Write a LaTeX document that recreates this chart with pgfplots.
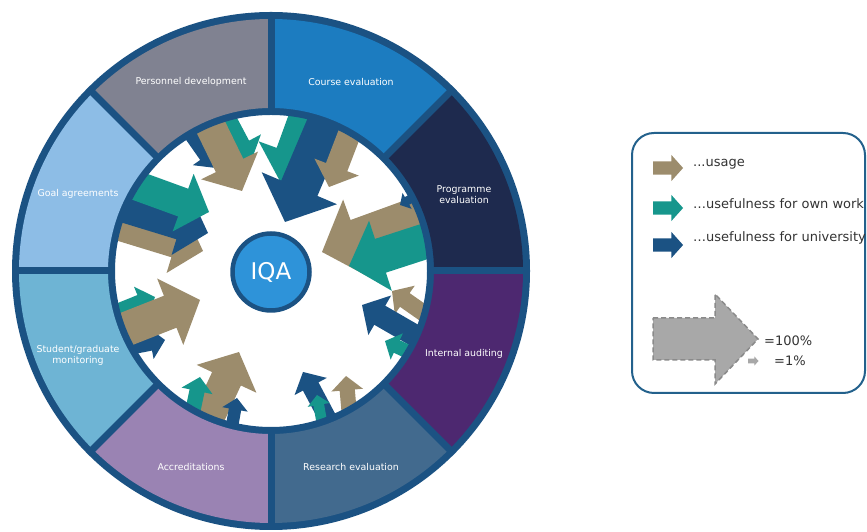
\documentclass[border=0pt]{standalone}
\usepackage{pgfplots}
\pgfplotsset{compat=1.18}
\usepackage{pgfplotstable}
\usepackage{fontspec}
\setmainfont{DejaVu Sans}

\definecolor{tanc}{HTML}{9C8C6C}
\definecolor{tealc}{HTML}{16968C}
\definecolor{navyc}{HTML}{1B5283}
\definecolor{ringc}{HTML}{1B5283}
\definecolor{cpers}{HTML}{808291}
\definecolor{ccourse}{HTML}{1C7CC0}
\definecolor{cprog}{HTML}{1E2A4E}
\definecolor{caudit}{HTML}{4D2870}
\definecolor{cresearch}{HTML}{426A8E}
\definecolor{caccred}{HTML}{9A83B3}
\definecolor{cstudent}{HTML}{6EB4D4}
\definecolor{cgoal}{HTML}{8DBDE6}
\definecolor{ciqa}{HTML}{2E93D9}
\definecolor{boxc}{HTML}{23618C}
\definecolor{greyfill}{HTML}{A8A8A8}
\definecolor{greyline}{HTML}{8A8A8A}

% arrows drawn for a share of 1% (length 10.5pt), pointing along +x
% ring arrow: tip at origin, long shaft that runs under the ring
\pgfdeclareplotmark{ringarrow}{%
  \pgfpathmoveto{\pgfqpoint{0pt}{0pt}}%
  \pgfpathlineto{\pgfqpoint{-4.1pt}{4.57pt}}%
  \pgfpathlineto{\pgfqpoint{-4.1pt}{2.2pt}}%
  \pgfpathlineto{\pgfqpoint{-13.5pt}{2.2pt}}%
  \pgfpathlineto{\pgfqpoint{-13.5pt}{-2.2pt}}%
  \pgfpathlineto{\pgfqpoint{-4.1pt}{-2.2pt}}%
  \pgfpathlineto{\pgfqpoint{-4.1pt}{-4.57pt}}%
  \pgfpathclose
  \pgfusepathqfill}
% legend arrow: tail at origin
\pgfdeclareplotmark{blockarrow}{%
  \pgfpathmoveto{\pgfqpoint{0pt}{2.3pt}}%
  \pgfpathlineto{\pgfqpoint{6.4pt}{2.3pt}}%
  \pgfpathlineto{\pgfqpoint{6.4pt}{4.57pt}}%
  \pgfpathlineto{\pgfqpoint{10.5pt}{0pt}}%
  \pgfpathlineto{\pgfqpoint{6.4pt}{-4.57pt}}%
  \pgfpathlineto{\pgfqpoint{6.4pt}{-2.3pt}}%
  \pgfpathlineto{\pgfqpoint{0pt}{-2.3pt}}%
  \pgfpathclose
  \pgfusepathqfill}
\pgfdeclareplotmark{blockarrowframed}{%
  \pgfpathmoveto{\pgfqpoint{0pt}{2.1pt}}%
  \pgfpathlineto{\pgfqpoint{6.2pt}{2.1pt}}%
  \pgfpathlineto{\pgfqpoint{6.2pt}{4.5pt}}%
  \pgfpathlineto{\pgfqpoint{10.5pt}{0pt}}%
  \pgfpathlineto{\pgfqpoint{6.2pt}{-4.5pt}}%
  \pgfpathlineto{\pgfqpoint{6.2pt}{-2.1pt}}%
  \pgfpathlineto{\pgfqpoint{0pt}{-2.1pt}}%
  \pgfpathclose
  \pgfusepath{fill,stroke}}

% x y = arrow tip, ang = direction, p = share in %, c = u usage / o own work / n university
% drawn in row order: course, programme, auditing, research, accreditation, student, goal, personnel
\pgfplotstableread{
x y ang p c
282 347 250 65 o
285 310 247 80 n
329 345 249 27 u
322 280 200 85 u
349 266 198 65 o
400 327 210 4 n
392 241 145 14.5 u
362 227 150 25 n
385 191 155 10 o
303 160 118 16 n
346 156 95 12 u
317 137 100 6 o
239 180 65 52 u
200 155 78 12 o
237 134 80 8 n
155 235 22 14.5 o
165 192 11 13 n
200 232 21.5 61 u
203 281 -17 48 u
208 299 -17 48 n
209 320 -20 45 o
216 364 -55 14.5 n
249 365 -62 32 o
242 341 -64 48 u
}\arrowdata

\pgfplotsset{
  canvas/.style={at={(0,0)}, anchor=south west, scale only axis,
    width=867pt, height=532pt, xmin=0, xmax=867, ymin=0, ymax=532,
    hide axis, clip=false},
  blockarrows/.style={scatter, only marks, mark=ringarrow,
    point meta=explicit symbolic,
    scatter/classes={u={tanc}, o={tealc}, n={navyc},
      lu={tanc, mark=blockarrow}, lo={tealc, mark=blockarrow}, ln={navyc, mark=blockarrow},
      s={greyfill, mark=blockarrow},
      g={fill=greyfill, draw=greyline, line width=1.5pt, dash pattern=on 5pt off 3pt,
         line join=miter, mark=blockarrowframed}},
    visualization depends on={\thisrow{ang} \as \arrang},
    visualization depends on={\thisrow{p} \as \arrpct},
    scatter/@pre marker code/.append code={%
      \pgfscope
      \pgfkeys{/pgf/fpu=true, /pgf/fpu/output format=fixed}%
      \pgfmathparse{\arrang}\let\arra\pgfmathresult
      \pgfmathparse{sqrt(\arrpct)}\let\arrs\pgfmathresult
      \pgfkeys{/pgf/fpu=false}%
      \pgftransformrotate{\arra}%
      \pgftransformscale{\arrs}},
    scatter/@post marker code/.prefix code={\endpgfscope}},
}
\tikzset{
  lbl/.style={text=white, font=\fontsize{9.4}{11}\selectfont, align=center, inner sep=0pt},
  legtxt/.style={anchor=west, text=black!80, font=\fontsize{13}{15}\selectfont, inner sep=0pt},
}

\newcommand{\seg}[3]{%
  \fill[#3] ([shift={(#1:163pt)}]axis cs:271,261) arc[start angle=#1, end angle=#2, radius=163pt]
    -- ([shift={(#2:252pt)}]axis cs:271,261) arc[start angle=#2, end angle=#1, radius=252pt] -- cycle;}
\newcommand{\sep}[1]{%
  \draw[ringc, line width=7pt] ([shift={(#1:158pt)}]axis cs:271,261) -- ([shift={(#1:256pt)}]axis cs:271,261);}

\begin{document}
\begin{tikzpicture}
% arrows (data)
\begin{axis}[canvas]
\coordinate (bl) at (axis cs:0,0);
\coordinate (tr) at (axis cs:867,532);
\addplot[blockarrows] table[x=x, y=y, meta=c] {\arrowdata};
\end{axis}
% ring, centre and legend
\begin{axis}[canvas]
\fill[ringc, even odd rule] (axis cs:271,261) circle[radius=259pt] (axis cs:271,261) circle[radius=156pt];
\seg{45}{90}{ccourse}
\seg{90}{135}{cpers}
\seg{135}{180}{cgoal}
\seg{180}{225}{cstudent}
\seg{225}{270}{caccred}
\seg{270}{315}{cresearch}
\seg{315}{360}{caudit}
\seg{0}{45}{cprog}
\sep{0}\sep{45}\sep{90}\sep{135}\sep{180}\sep{225}\sep{270}\sep{315}
\draw[ringc, fill=ciqa, line width=4.5pt] (axis cs:271,260) circle[radius=38.5pt];
\node[text=white, font=\fontsize{23}{26}\selectfont] at (axis cs:271,260) {IQA};

\node[lbl] at (axis cs:191,450) {Personnel development};
\node[lbl] at (axis cs:351,450) {Course evaluation};
\node[lbl] at (axis cs:464,337) {Programme\\evaluation};
\node[lbl] at (axis cs:464,178) {Internal auditing};
\node[lbl] at (axis cs:351,65) {Research evaluation};
\node[lbl] at (axis cs:191,65) {Accreditations};
\node[lbl] at (axis cs:78,177) {Student/graduate\\monitoring};
\node[lbl] at (axis cs:78,338) {Goal agreements};

% legend
\draw[boxc, line width=2pt, rounded corners=22pt] (axis cs:632,139) rectangle (axis cs:865,399);
\addplot[blockarrows] table[x=x, y=y, meta=c, row sep=\\] {
x y ang p c\\
653 364 0 8.2 lu\\
653 324 0 8.2 lo\\
653 287 0 8.2 ln\\
653 193 0 100 g\\
748 171 0 1 s\\
};
\node[legtxt] at (axis cs:693,368) {...usage};
\node[legtxt] at (axis cs:693,328) {…usefulness for own work};
\node[legtxt] at (axis cs:693,294) {…usefulness for university};
\node[legtxt] at (axis cs:764,191) {=100\%};
\node[legtxt] at (axis cs:774,171) {=1\%};
\end{axis}
\pgfresetboundingbox
\path[use as bounding box] (bl) rectangle (tr);
\end{tikzpicture}
\end{document}
